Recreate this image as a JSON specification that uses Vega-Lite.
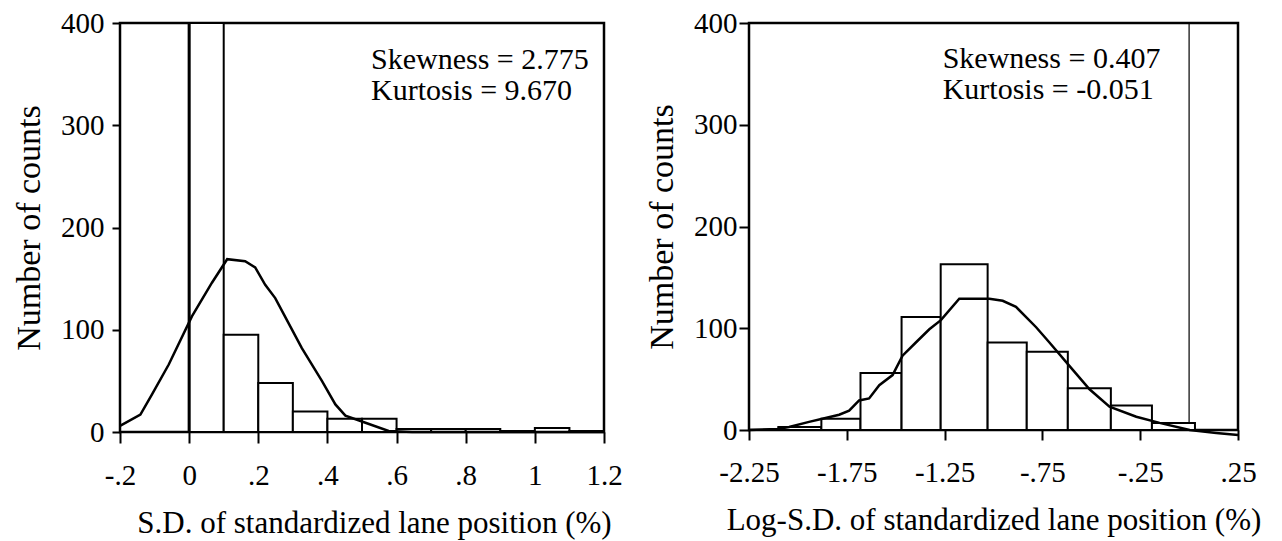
{
  "$schema": "https://vega.github.io/schema/vega-lite/v6.json",
  "background": "white",
  "padding": {"left": 11, "top": 7, "right": 0, "bottom": 0},
  "bounds": "flush",
  "spacing": 145,
  "config": {
    "font": "Liberation Serif",
    "view": {"stroke": "black", "strokeWidth": 2.5},
    "axis": {
      "domain": false, "grid": false, "tickColor": "black", "tickWidth": 2,
      "labelColor": "black", "titleColor": "black",
      "labelFont": "Liberation Serif", "titleFont": "Liberation Serif",
      "labelFontSize": 29, "titleFontSize": 31, "titleFontWeight": "normal",
      "labelOverlap": false, "labelFlush": false
    }
  },
  "datasets": {
    "leftBars": [
      {"bin_start": 0, "bin_end": 0.1, "count": 400},
      {"bin_start": 0.1, "bin_end": 0.2, "count": 95},
      {"bin_start": 0.2, "bin_end": 0.3, "count": 48},
      {"bin_start": 0.3, "bin_end": 0.4, "count": 20},
      {"bin_start": 0.4, "bin_end": 0.5, "count": 13},
      {"bin_start": 0.5, "bin_end": 0.6, "count": 13},
      {"bin_start": 0.6, "bin_end": 0.7, "count": 3},
      {"bin_start": 0.7, "bin_end": 0.8, "count": 3},
      {"bin_start": 0.8, "bin_end": 0.9, "count": 3},
      {"bin_start": 0.9, "bin_end": 1.0, "count": 1},
      {"bin_start": 1.0, "bin_end": 1.1, "count": 4},
      {"bin_start": 1.1, "bin_end": 1.2, "count": 1}
    ],
    "leftRules": [{"x": 0}],
    "leftCurve": [
      {"x": -0.2, "count": 6},
      {"x": -0.141, "count": 17},
      {"x": -0.107, "count": 37},
      {"x": -0.059, "count": 66},
      {"x": 0.008, "count": 113},
      {"x": 0.066, "count": 146},
      {"x": 0.11, "count": 169},
      {"x": 0.162, "count": 167},
      {"x": 0.191, "count": 161},
      {"x": 0.22, "count": 144},
      {"x": 0.249, "count": 131},
      {"x": 0.274, "count": 115},
      {"x": 0.326, "count": 82},
      {"x": 0.384, "count": 50},
      {"x": 0.423, "count": 27},
      {"x": 0.452, "count": 16},
      {"x": 0.51, "count": 9},
      {"x": 0.577, "count": 1},
      {"x": 0.645, "count": 0},
      {"x": 1.2, "count": 0}
    ],
    "leftStats": [
      {"x": 0.526, "count": 355, "label": "Skewness = 2.775"},
      {"x": 0.526, "count": 325, "label": "Kurtosis = 9.670"}
    ],
    "rightBars": [
      {"bin_start": -2.1, "bin_end": -1.88, "count": 3},
      {"bin_start": -1.88, "bin_end": -1.68, "count": 11},
      {"bin_start": -1.68, "bin_end": -1.47, "count": 56},
      {"bin_start": -1.47, "bin_end": -1.27, "count": 111},
      {"bin_start": -1.27, "bin_end": -1.03, "count": 163},
      {"bin_start": -1.03, "bin_end": -0.83, "count": 86},
      {"bin_start": -0.83, "bin_end": -0.62, "count": 77},
      {"bin_start": -0.62, "bin_end": -0.4, "count": 41},
      {"bin_start": -0.4, "bin_end": -0.19, "count": 24},
      {"bin_start": -0.19, "bin_end": 0.03, "count": 7}
    ],
    "rightRules": [{"x": 0}],
    "rightCurve": [
      {"x": -2.25, "count": 0},
      {"x": -2.105, "count": 1},
      {"x": -2.045, "count": 3},
      {"x": -1.943, "count": 8},
      {"x": -1.875, "count": 11},
      {"x": -1.789, "count": 15},
      {"x": -1.738, "count": 19},
      {"x": -1.687, "count": 29},
      {"x": -1.636, "count": 31},
      {"x": -1.584, "count": 44},
      {"x": -1.516, "count": 54},
      {"x": -1.465, "count": 73},
      {"x": -1.397, "count": 86},
      {"x": -1.328, "count": 99},
      {"x": -1.269, "count": 108},
      {"x": -1.175, "count": 129},
      {"x": -1.021, "count": 129},
      {"x": -0.953, "count": 127},
      {"x": -0.885, "count": 121},
      {"x": -0.782, "count": 101},
      {"x": -0.714, "count": 86},
      {"x": -0.612, "count": 63},
      {"x": -0.509, "count": 40},
      {"x": -0.407, "count": 23},
      {"x": -0.27, "count": 13},
      {"x": -0.151, "count": 7},
      {"x": 0.003, "count": 0},
      {"x": 0.139, "count": -3},
      {"x": 0.25, "count": -5}
    ],
    "rightStats": [
      {"x": -1.26, "count": 356, "label": "Skewness = 0.407"},
      {"x": -1.26, "count": 325, "label": "Kurtosis = -0.051"}
    ]
  },
  "hconcat": [
    {
      "width": 484,
      "height": 409,
      "layer": [
        {
          "data": {"name": "leftBars"},
          "mark": {"type": "rect", "fill": "white", "stroke": "black", "strokeWidth": 2, "clip": true},
          "encoding": {
            "x": {
              "field": "bin_start", "type": "quantitative",
              "scale": {"domain": [-0.2, 1.2], "nice": false, "zero": false},
              "title": "S.D. of standardized lane position (%)",
              "axis": {
                "values": [-0.2, -0.1, 0, 0.1, 0.2, 0.3, 0.4, 0.5, 0.6, 0.7, 0.8, 0.9, 1, 1.1, 1.2],
                "tickSize": 11, "labelPadding": 18, "titlePadding": 18, "titleX": 254,
                "labelExpr": "indexof(['-0.2','0','0.2','0.4','0.6','0.8','1','1.2'], '' + datum.value) >= 0 ? replace('' + datum.value, '0.', '.') : ''"
              }
            },
            "x2": {"field": "bin_end"},
            "y": {
              "field": "count", "type": "quantitative",
              "scale": {"domain": [0, 400], "nice": false},
              "title": "Number of counts",
              "axis": {"values": [0, 100, 200, 300, 400], "tickSize": 8, "labelPadding": 8, "titlePadding": 14, "titleFontSize": 34}
            },
            "y2": {"datum": 0}
          }
        },
        {
          "data": {"name": "leftRules"},
          "mark": {"type": "rule", "color": "black", "strokeWidth": 3},
          "encoding": {"x": {"field": "x", "type": "quantitative"}}
        },
        {
          "data": {"name": "leftCurve"},
          "mark": {"type": "line", "color": "black", "strokeWidth": 2.5},
          "encoding": {
            "x": {"field": "x", "type": "quantitative"},
            "y": {"field": "count", "type": "quantitative"}
          }
        },
        {
          "data": {"name": "leftStats"},
          "mark": {"type": "text", "align": "left", "baseline": "alphabetic", "fontSize": 30, "font": "Liberation Serif", "color": "black"},
          "encoding": {
            "x": {"field": "x", "type": "quantitative"},
            "y": {"field": "count", "type": "quantitative"},
            "text": {"field": "label"}
          }
        }
      ]
    },
    {
      "width": 489,
      "height": 407,
      "layer": [
        {
          "data": {"name": "rightRules"},
          "mark": {"type": "rule", "color": "black", "strokeWidth": 1.2},
          "encoding": {
            "x": {
              "field": "x", "type": "quantitative",
              "scale": {"domain": [-2.25, 0.25], "nice": false, "zero": false},
              "title": "Log-S.D. of standardized lane position (%)",
              "axis": {
                "values": [-2.25, -1.75, -1.25, -0.75, -0.25, 0.25],
                "tickSize": 10, "labelPadding": 18, "titlePadding": 18,
                "labelExpr": "replace('' + datum.value, '0.', '.')"
              }
            }
          }
        },
        {
          "data": {"name": "rightBars"},
          "mark": {"type": "rect", "fill": "white", "stroke": "black", "strokeWidth": 2},
          "encoding": {
            "x": {"field": "bin_start", "type": "quantitative"},
            "x2": {"field": "bin_end"},
            "y": {
              "field": "count", "type": "quantitative",
              "scale": {"domain": [0, 400], "nice": false},
              "title": "Number of counts",
              "axis": {"values": [0, 100, 200, 300, 400], "tickSize": 10, "labelPadding": 2, "titlePadding": 14, "titleFontSize": 34}
            },
            "y2": {"datum": 0}
          }
        },
        {
          "data": {"name": "rightCurve"},
          "mark": {"type": "line", "color": "black", "strokeWidth": 2.5},
          "encoding": {
            "x": {"field": "x", "type": "quantitative"},
            "y": {"field": "count", "type": "quantitative"}
          }
        },
        {
          "data": {"name": "rightStats"},
          "mark": {"type": "text", "align": "left", "baseline": "alphabetic", "fontSize": 30, "font": "Liberation Serif", "color": "black"},
          "encoding": {
            "x": {"field": "x", "type": "quantitative"},
            "y": {"field": "count", "type": "quantitative"},
            "text": {"field": "label"}
          }
        }
      ]
    }
  ]
}
